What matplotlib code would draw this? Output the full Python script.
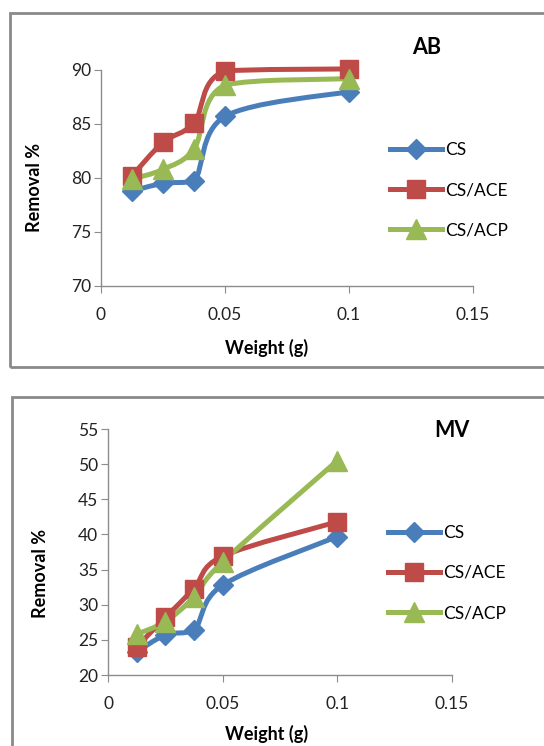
import numpy as np
import matplotlib
matplotlib.use("Agg")
import matplotlib.pyplot as plt
from matplotlib.path import Path
from matplotlib.patches import PathPatch, Rectangle

plt.rcParams['font.family'] = ['Lato', 'DejaVu Sans']

weight = [0.0125, 0.025, 0.0375, 0.05, 0.1]

ab_cs = [78.8, 79.5, 79.7, 85.7, 88.0]
ab_ace = [80.2, 83.3, 85.1, 89.9, 90.1]
ab_acp = [79.9, 80.8, 82.7, 88.6, 89.2]

mv_cs = [23.3, 25.7, 26.4, 32.8, 39.7]
mv_ace = [24.0, 28.2, 32.3, 36.9, 41.8]
mv_acp = [25.8, 27.6, 31.1, 36.1, 50.5]

series_names = ["CS", "CS/ACE", "CS/ACP"]
colors = ["#4A7EBB", "#BE4B48", "#98B954"]
markers = ["D", "s", "^"]
msizes = [10, 13, 14]

x_ticks = [0, 0.05, 0.1, 0.15]
x_ticklabels = ["0", "0.05", "0.1", "0.15"]
ab_yticks = [70, 75, 80, 85, 90]
mv_yticks = [20, 25, 30, 35, 40, 45, 50, 55]

W, H = 544, 746
fig = plt.figure(figsize=(W / 100, H / 100), dpi=100)


def smooth_path(x, y):
    """Smoothed line (cubic Bezier through the data points, no overshoot)."""
    pts = np.column_stack([x, y]).astype(float)
    n = len(pts)
    verts = [pts[0]]
    codes = [Path.MOVETO]
    for i in range(n - 1):
        p0 = pts[i - 1] if i > 0 else pts[i]
        p1 = pts[i]
        p2 = pts[i + 1]
        p3 = pts[i + 2] if i + 2 < n else pts[i + 1]
        c1 = p1 + (p2 - p0) / 6.0
        c2 = p2 - (p3 - p1) / 6.0
        lo, hi = min(p1[1], p2[1]), max(p1[1], p2[1])
        c1[1] = np.clip(c1[1], lo, hi)
        c2[1] = np.clip(c2[1], lo, hi)
        verts += [c1, c2, p2]
        codes += [Path.CURVE4] * 3
    return Path(verts, codes)


def fx(px):
    return px / W


def fy(py):
    return 1 - py / H


def make_panel(rect, data, yticks, ylim, title, title_xy, ylab_xy, xlab_xy, leg_xy):
    ax = fig.add_axes(rect)
    for vals, c, m, ms, name in zip(data, colors, markers, msizes, series_names):
        patch = PathPatch(smooth_path(weight, vals), facecolor='none', edgecolor=c,
                          lw=3.6, capstyle='round', joinstyle='round', clip_on=False)
        ax.add_patch(patch)
        ax.plot(weight, vals, linestyle='none', marker=m, markersize=ms, color=c,
                markeredgecolor=c, clip_on=False, zorder=3)
        ax.plot([], [], color=c, lw=3.6, marker=m, markersize=ms, label=name)
    ax.set_xlim(0, 0.15)
    ax.set_ylim(*ylim)
    ax.set_xticks(x_ticks)
    ax.set_xticklabels(x_ticklabels)
    ax.set_yticks(yticks)
    for s in ['top', 'right']:
        ax.spines[s].set_visible(False)
    for s in ['left', 'bottom']:
        ax.spines[s].set_color('#8C8C8C')
        ax.spines[s].set_linewidth(1.0)
    ax.tick_params(axis='both', direction='out', length=5, color='#8C8C8C',
                   labelsize=12.5, labelcolor='#222222')
    ax.tick_params(axis='x', pad=10)
    ax.tick_params(axis='y', pad=2)
    fig.text(fx(title_xy[0]), fy(title_xy[1]), title, fontsize=15.5, fontweight='bold',
             ha='center', va='center')
    fig.text(fx(ylab_xy[0]), fy(ylab_xy[1]), "Removal %", fontsize=13, fontweight='bold',
             rotation=90, ha='center', va='center')
    fig.text(fx(xlab_xy[0]), fy(xlab_xy[1]), "Weight (g)", fontsize=13, fontweight='bold',
             ha='center', va='center')
    ax.legend(loc='center left', bbox_to_anchor=(fx(leg_xy[0]), fy(leg_xy[1])),
              bbox_transform=fig.transFigure, frameon=False, borderpad=0,
              borderaxespad=0, handlelength=3.0, handletextpad=0.2,
              labelspacing=1.4, fontsize=12.5)
    return ax


# top panel (AB)
fig.patches.append(Rectangle((fx(10), fy(367)), 1.2, fy(13) - fy(367), transform=fig.transFigure,
                             facecolor='none', edgecolor='#8A8A8A', lw=2))
make_panel([fx(101), fy(286), fx(473) - fx(101), fy(70) - fy(286)],
           [ab_cs, ab_ace, ab_acp], ab_yticks, (70, 90), "AB", (427, 48),
           (34, 187), (267, 348), (390, 190))

# bottom panel (MV)
fig.patches.append(Rectangle((fx(12), fy(800)), 1.2, fy(397) - fy(800), transform=fig.transFigure,
                             facecolor='none', edgecolor='#8A8A8A', lw=2))
make_panel([fx(108), fy(675), fx(452) - fx(108), fy(429) - fy(675)],
           [mv_cs, mv_ace, mv_acp], mv_yticks, (20, 55), "MV", (452, 430),
           (40, 573), (267, 734), (388, 573))

fig.savefig("out.png", dpi=100)
